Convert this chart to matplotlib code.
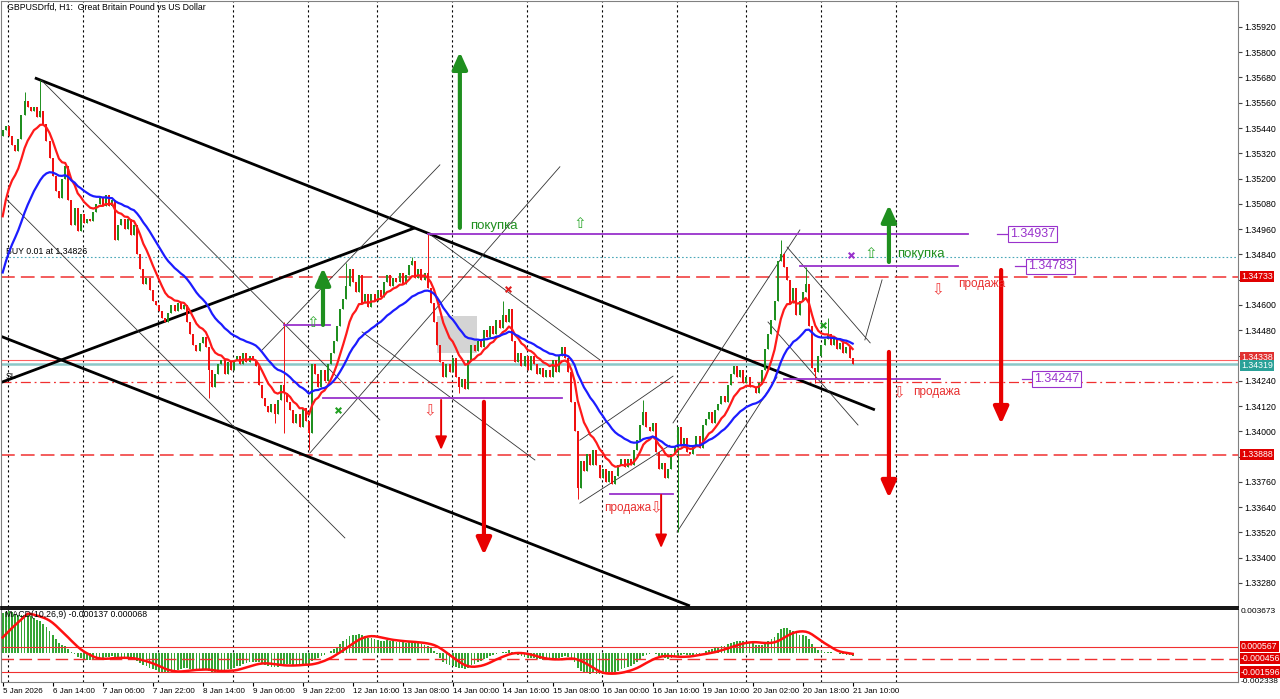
import numpy as np
import matplotlib.pyplot as plt
from matplotlib.patches import Rectangle

plt.rcParams['font.family'] = ['Liberation Sans', 'DejaVu Sans']

# ---------------------------
# GBPUSD H1 candles (one close per bar)
# ---------------------------
first_open = 1.3540
closes = [
    1.3543, 1.3545, 1.3540, 1.3536, 1.3533, 1.3539, 1.3550, 1.3557, 1.3554, 1.3552,
    1.3554, 1.3549, 1.3552, 1.3546, 1.3538, 1.3530, 1.3521, 1.3514, 1.3511, 1.3520,
    1.3526, 1.3510, 1.3498, 1.3506, 1.3495, 1.3503, 1.3499, 1.3501, 1.3500, 1.3504,
    1.3508, 1.3511, 1.3507, 1.3512, 1.3507, 1.3510, 1.3491, 1.3498, 1.3501, 1.3496,
    1.3501, 1.3493, 1.3498, 1.3484, 1.3477, 1.3470, 1.3473, 1.3467, 1.3462, 1.3460,
    1.3457, 1.3454, 1.3452, 1.3456, 1.3460, 1.3457, 1.3461, 1.3458, 1.3460, 1.3452,
    1.3446, 1.3441, 1.3438, 1.3442, 1.3445, 1.3440, 1.3429, 1.3421, 1.3427, 1.3432,
    1.3434, 1.3427, 1.3433, 1.3429, 1.3434, 1.3436, 1.3432, 1.3437, 1.3433, 1.3436,
    1.3434, 1.3431, 1.3422, 1.3416, 1.3412, 1.3409, 1.3413, 1.3408, 1.3415, 1.3422,
    1.3418, 1.3414, 1.3410, 1.3404, 1.3408, 1.3402, 1.3411, 1.3405, 1.3399, 1.3432,
    1.3427, 1.3421, 1.3429, 1.3424, 1.3432, 1.3437, 1.3443, 1.3450, 1.3458, 1.3463,
    1.3469, 1.3477, 1.3471, 1.3466, 1.3474, 1.3461, 1.3465, 1.3459, 1.3465, 1.3462,
    1.3467, 1.3464, 1.3471, 1.3474, 1.3469, 1.3473, 1.3471, 1.3475, 1.3470, 1.3474,
    1.3479, 1.3481, 1.3473, 1.3477, 1.3472, 1.3475, 1.3468, 1.3461, 1.3452, 1.3441,
    1.3433, 1.3426, 1.3432, 1.3428, 1.3435, 1.3426, 1.3421, 1.3425, 1.3420, 1.3434,
    1.3441, 1.3438, 1.3443, 1.3440, 1.3448, 1.3445, 1.3450, 1.3446, 1.3453, 1.3449,
    1.3455, 1.3452, 1.3458, 1.3443, 1.3433, 1.3437, 1.3431, 1.3436, 1.3429, 1.3436,
    1.3432, 1.3427, 1.3430, 1.3426, 1.3429, 1.3426, 1.3434, 1.3428, 1.3436, 1.3440,
    1.3435, 1.3428, 1.3414, 1.3400, 1.3373, 1.3386, 1.3381, 1.3389, 1.3384, 1.3391,
    1.3384, 1.3378, 1.3382, 1.3376, 1.3381, 1.3375, 1.3379, 1.3384, 1.3387, 1.3383,
    1.3387, 1.3384, 1.3391, 1.3396, 1.3403, 1.3409, 1.3402, 1.3400, 1.3404, 1.3390,
    1.3382, 1.3385, 1.3378, 1.3382, 1.3389, 1.3393, 1.3402, 1.3393, 1.3397, 1.3390,
    1.3389, 1.3393, 1.3398, 1.3392, 1.3403, 1.3406, 1.3409, 1.3404, 1.3410, 1.3413,
    1.3417, 1.3414, 1.3422, 1.3427, 1.3431, 1.3426, 1.3429, 1.3423, 1.3426, 1.3421,
    1.3421, 1.3418, 1.3423, 1.3429, 1.3439, 1.3446, 1.3453, 1.3462, 1.3481, 1.3484,
    1.3478, 1.3472, 1.3461, 1.3468, 1.3455, 1.3462, 1.3466, 1.3470, 1.3450, 1.3430,
    1.3428, 1.3436, 1.3441, 1.3444, 1.3446, 1.3441, 1.3444, 1.3439, 1.3442, 1.3437,
    1.3440, 1.3435, 1.34319,
]
# long wicks that stand out on the picture (bar index -> price)
wick_high = {7: 1.3561, 12: 1.3567, 90: 1.3452, 110: 1.3480, 131: 1.3483, 136: 1.3494,
             160: 1.3462, 205: 1.3415, 249: 1.3491, 257: 1.3478, 264: 1.3454}
wick_low = {66: 1.3416, 87: 1.3404, 90: 1.3399, 98: 1.3391, 146: 1.3418, 184: 1.3368,
            216: 1.3352, 260: 1.3423}

# indicator start values read at the left edge
ma_fast_seed = 1.3493
ma_slow_seed = 1.3470
macd_fast_seed = 1.3500
macd_slow_seed = 1.3468
signal_seed = 0.0011

time_labels = ['5 Jan 2026', '6 Jan 14:00', '7 Jan 06:00', '7 Jan 22:00', '8 Jan 14:00',
               '9 Jan 06:00', '9 Jan 22:00', '12 Jan 16:00', '13 Jan 08:00', '14 Jan 00:00',
               '14 Jan 16:00', '15 Jan 08:00', '16 Jan 00:00', '16 Jan 16:00', '19 Jan 10:00',
               '20 Jan 02:00', '20 Jan 18:00', '21 Jan 10:00']
label_step = 16
day_starts = [2, 26, 50, 74, 98, 120, 144, 168, 192, 216, 238, 262, 286]

price_ticks = [1.33280, 1.33400, 1.33520, 1.33640, 1.33760, 1.33880, 1.34000, 1.34120,
               1.34240, 1.34360, 1.34480, 1.34600, 1.34720, 1.34840, 1.34960, 1.35080,
               1.35200, 1.35320, 1.35440, 1.35560, 1.35680, 1.35800, 1.35920]
# tick labels hidden behind the price tags
covered_ticks = [1.33880, 1.34360, 1.34720]

buy_price = 1.34826
level_dash = 1.34733
level_low = 1.33888
sl_price = 1.34235
ask_price = 1.34338
bid_price = 1.34319
macd_levels = [0.000567, -0.000456, -0.001596]

# drawn objects: ((bar, price), (bar, price))
thick_lines = [((10.3, 1.35678), (279.1, 1.34102)),
               ((-0.9, 1.34453), (219.9, 1.33171)),
               ((-0.9, 1.34230), (131.9, 1.34966))]
thin_lines = [((12.3, 1.35668), (120.7, 1.34054)),
              ((1.4, 1.35099), (109.5, 1.33494)),
              ((83.0, 1.34386), (139.9, 1.35265)),
              ((98.3, 1.33897), (178.3, 1.35256)),
              ((115.0, 1.34472), (170.3, 1.33864)),
              ((136.1, 1.34942), (191.1, 1.34339)),
              ((184.7, 1.33659), (213.5, 1.33934)),
              ((184.7, 1.33958), (214.5, 1.34262)),
              ((214.5, 1.34040), (255.1, 1.34956)),
              ((215.8, 1.33522), (247.8, 1.34258)),
              ((251.0, 1.34875), (277.6, 1.34420)),
              ((244.9, 1.34519), (273.7, 1.34030)),
              ((275.9, 1.34434), (281.4, 1.34719))]
purple_levels = [(1.34937, 136.1, 308.9), (1.34783, 255.1, 305.7), (1.34247, 250.0, 300.0),
                 (1.34505, 90.0, 104.7), (1.34158, 102.5, 179.0), (1.33703, 194.3, 214.5)]
purple_tags = [(1.34937, 318.2, 322.3), (1.34783, 323.9, 328.1), (1.34247, 326.2, 330.0)]
# (bar, tail price, head price, line width)
green_arrows = [(146.3, 1.34966, 1.35801, 3.0), (102.5, 1.34505, 1.34776, 3.0),
                (283.6, 1.34804, 1.35075, 3.0)]
red_arrows = [(154.0, 1.34140, 1.33413, 3.0), (140.3, 1.34149, 1.33912, 1.4),
              (210.7, 1.33698, 1.33446, 1.4), (319.5, 1.34766, 1.34035, 3.0),
              (283.6, 1.34377, 1.33684, 3.0)]
up_marks = [(184.7, 1.34985), (277.8, 1.34842), (99.3, 1.34515)]
down_marks = [(136.7, 1.34097), (299.3, 1.34671), (286.8, 1.34182), (209.0, 1.33636)]
buy_texts = [(149.5, 1.34975), (286.2, 1.34842)]
sell_texts = [(305.7, 1.34700), (291.3, 1.34187), (192.4, 1.33636)]
crosses = [(107.3, 1.34102, '#22a022'), (262.5, 1.34505, '#22a022'),
           (161.7, 1.34676, '#e02020'), (271.4, 1.34837, '#9932cc')]
grey_box = (139.0, 1.34372, 12.8, 0.00176)

GREEN = '#1f8f1f'
RED = '#f01010'
PURPLE = '#9932cc'
LABEL_SIZE = 6.3


def ema(values, period, seed):
    k = 2.0 / (period + 1)
    out = []
    prev = seed
    for v in values:
        prev = prev + k * (v - prev)
        out.append(prev)
    return np.array(out)


def price_tag(axis, value, text, face, color='white', dy=0):
    axis.annotate(text, xy=(1.0, value), xycoords=('axes fraction', 'data'),
                  xytext=(3, dy), textcoords='offset pixels', ha='left', va='center',
                  fontsize=LABEL_SIZE, color=color, annotation_clip=False, zorder=10,
                  bbox=dict(boxstyle='square,pad=0.12', fc=face, ec='none'))


c = np.array(closes)
n = len(c)
idx = np.arange(n)
o = np.concatenate([[first_open], c[:-1]])
hi = np.maximum(o, c)
lo = np.minimum(o, c)
for k, v in wick_high.items():
    hi[k] = max(hi[k], v)
for k, v in wick_low.items():
    lo[k] = min(lo[k], v)
up = c >= o

ma_fast = ema(c, 10, ma_fast_seed)
ma_slow = ema(c, 26, ma_slow_seed)
macd = ema(c, 10, macd_fast_seed) - ema(c, 26, macd_slow_seed)
signal = []
for i in range(n):
    window = list(macd[max(0, i - 8):i + 1])
    window = [signal_seed] * (9 - len(window)) + window
    signal.append(np.mean(window))

fig = plt.figure(figsize=(12.8, 6.99), dpi=100)
W, H = 1280.0, 699.0
ax = fig.add_axes([1 / W, 1 - 607 / H, 1237 / W, 606 / H])
ax2 = fig.add_axes([1 / W, 1 - 682 / H, 1237 / W, 73 / H], sharex=ax)

xmin, xmax = -0.54, 395.3
ax.set_xlim(xmin, xmax)
ax.set_ylim(1.33166, 1.36043)
ax2.set_ylim(-0.002449, 0.003793)

# day separators
for d in day_starts:
    for a in (ax, ax2):
        a.axvline(d - 0.3, color='black', lw=0.8, ls=(0, (2, 2.5)), zorder=0)

# horizontal levels
ax.axhline(buy_price, color='#4aa8b8', lw=0.8, ls=(0, (1.5, 2)), zorder=1)
ax.axhline(level_dash, color='#f03030', lw=1.1, ls=(0, (9, 4)), zorder=1)
ax.axhline(level_low, color='#f03030', lw=1.1, ls=(0, (9, 4)), zorder=1)
ax.axhline(sl_price, color='#f03030', lw=0.9, ls=(0, (8, 3, 1.5, 3)), zorder=1)
ax.axhline(ask_price, color='#ff6060', lw=0.8, zorder=1)
ax.axhline(bid_price, color='#8cc8c8', lw=1.8, zorder=1)

ax.add_patch(Rectangle((grey_box[0], grey_box[1]), grey_box[2], grey_box[3],
                       fc='#d4d4d4', ec='none', zorder=1))

# trend lines
for (b0, p0), (b1, p1) in thick_lines:
    ax.plot([b0, b1], [p0, p1], color='black', lw=2.0, zorder=2, solid_capstyle='butt')
for (b0, p0), (b1, p1) in thin_lines:
    ax.plot([b0, b1], [p0, p1], color='#333333', lw=0.6, zorder=2)

# candles
ax.vlines(idx[up], lo[up], hi[up], color=GREEN, lw=0.7, zorder=3)
ax.vlines(idx[~up], lo[~up], hi[~up], color=RED, lw=0.7, zorder=3)
bottom = np.minimum(o, c)
height = np.maximum(np.abs(c - o), 0.00003)
ax.bar(idx, height, bottom=bottom, width=0.62, color=np.where(up, GREEN, RED),
       lw=0, zorder=3)

ax.plot(idx, ma_fast, color='#ff1a1a', lw=1.6, zorder=4)
ax.plot(idx, ma_slow, color='#1c1cff', lw=1.6, zorder=4)

# purple levels and tags
for p, b0, b1 in purple_levels:
    ax.plot([b0, b1], [p, p], color=PURPLE, lw=1.3, zorder=4)
for p, b0, b1 in purple_tags:
    ax.plot([b0, b1], [p, p], color=PURPLE, lw=0.9, zorder=4)
    ax.text(b1, p, f'{p:.5f}', color=PURPLE, fontsize=9, ha='left', va='center', zorder=6,
            bbox=dict(boxstyle='square,pad=0.15', fc='white', ec=PURPLE, lw=0.8))

# arrows and marks
for b, p0, p1, lw in green_arrows + red_arrows:
    col = GREEN if p1 > p0 else '#e80000'
    hl = 1.0 if lw > 2 else 0.8
    hw = 0.45 if lw > 2 else 0.35
    ax.annotate('', xy=(b, p1), xytext=(b, p0),
                arrowprops=dict(arrowstyle=f'-|>,head_length={hl},head_width={hw}',
                                lw=lw, color=col, shrinkA=0, shrinkB=0), zorder=5)
for b, p in up_marks:
    ax.text(b, p, '\u21e7', color='#33aa33', fontsize=11, ha='center', va='center',
            family='DejaVu Sans', zorder=5)
for b, p in down_marks:
    ax.text(b, p, '\u21e9', color='#f04040', fontsize=11, ha='center', va='center',
            family='DejaVu Sans', zorder=5)
for b, p in buy_texts:
    ax.text(b, p, 'покупка', color='#1f8f1f', fontsize=9.5, ha='left', va='center', zorder=5)
for b, p in sell_texts:
    ax.text(b, p, 'продажа', color='#e83030', fontsize=8.5, ha='left', va='center', zorder=5)
for b, p, col in crosses:
    ax.scatter([b], [p], marker='x', s=16, color=col, lw=1.5, zorder=5)

ax.text(1.1, buy_price + 0.00006, 'BUY 0.01 at 1.34826', fontsize=LABEL_SIZE,
        ha='left', va='bottom')
ax.text(1.1, sl_price + 0.00004, 'SL', fontsize=LABEL_SIZE, ha='left', va='bottom')

# MACD panel
ax2.bar(idx, macd, width=0.55, color='#34a534', lw=0, zorder=2)
ax2.plot(idx, signal, color='#ff1010', lw=1.8, zorder=3)
ax2.axhline(macd_levels[0], color='#f03030', lw=0.8)
ax2.axhline(macd_levels[1], color='#f03030', lw=1.0, ls=(0, (9, 4)))
ax2.axhline(macd_levels[2], color='#f03030', lw=0.8)

# axes styling
ax.yaxis.tick_right()
ax.set_yticks(price_ticks)
ax.set_yticklabels(['' if t in covered_ticks else f'{t:.5f}' for t in price_ticks])
ax.tick_params(axis='y', labelsize=LABEL_SIZE, length=3, pad=1.5, color='#444444')
ax.tick_params(axis='x', bottom=False, labelbottom=False)
for s in ('left', 'right', 'top'):
    ax.spines[s].set_color('#808080')
ax.spines['bottom'].set_color('black')
ax.spines['bottom'].set_linewidth(1.3)

ax2.yaxis.tick_right()
ax2.set_yticks([0.003673, -0.002338])
ax2.set_yticklabels(['0.003673', '-0.002338'])
ax2.tick_params(axis='y', labelsize=6, length=0, pad=2)
for s in ('left', 'right', 'bottom'):
    ax2.spines[s].set_color('#808080')
ax2.spines['top'].set_color('black')
ax2.spines['top'].set_linewidth(1.3)
tick_pos = [i * label_step for i in range(len(time_labels))]
ax2.set_xticks(tick_pos)
ax2.set_xticklabels(time_labels)
ax2.tick_params(axis='x', labelsize=5.8, length=3, pad=1, direction='out')
for lbl in ax2.get_xticklabels():
    lbl.set_ha('left')

price_tag(ax, level_dash, f'{level_dash:.5f}', '#e00000')
price_tag(ax, ask_price, f'{ask_price:.5f}', '#e03030', dy=3)
price_tag(ax, bid_price, f'{bid_price:.5f}', '#2aa198', dy=-1)
price_tag(ax, level_low, f'{level_low:.5f}', '#e00000')
for lv in macd_levels:
    price_tag(ax2, lv, f'{lv:.6f}', '#e00000')

fig.text(7 / W, 1 - 3 / H, 'GBPUSDrfd, H1:  Great Britain Pound vs US Dollar',
         fontsize=LABEL_SIZE, va='top', ha='left')
fig.text(5 / W, 1 - 610 / H, 'MACD(10,26,9) -0.000137 0.000068', fontsize=LABEL_SIZE,
         va='top', ha='left')

fig.savefig('out.png', dpi=100, facecolor='white')
